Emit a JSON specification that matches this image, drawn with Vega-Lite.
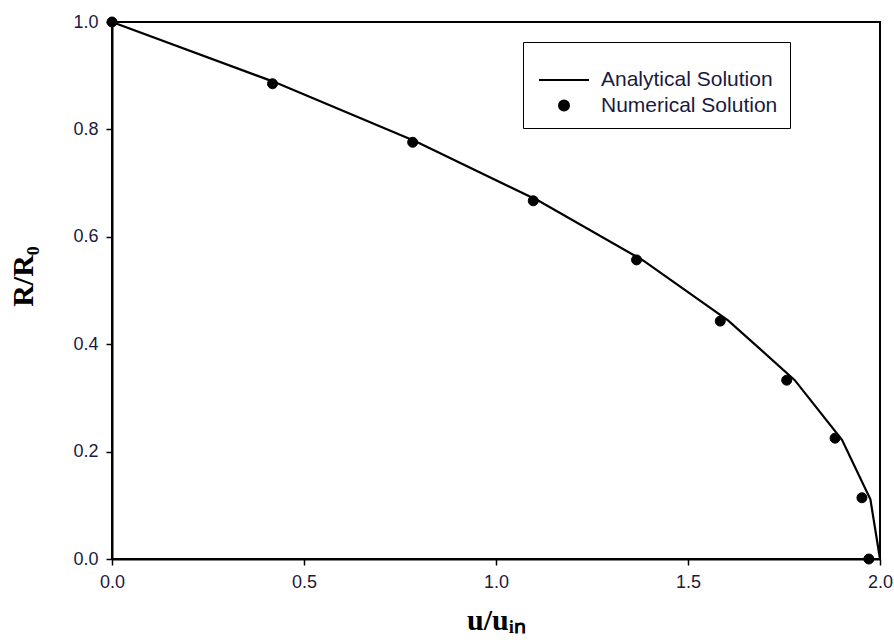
{
  "$schema": "https://vega.github.io/schema/vega-lite/v6.json",
  "width": 768,
  "height": 537,
  "autosize": {"type": "none"},
  "padding": {"left": 112, "top": 22, "right": 14, "bottom": 81},
  "background": "white",
  "config": {
    "view": {"stroke": "black", "strokeWidth": 2},
    "axis": {
      "grid": false,
      "labelFlush": false,
      "domainColor": "black",
      "domainWidth": 2,
      "tickColor": "black",
      "tickWidth": 1.5,
      "tickSize": 6,
      "labelFont": "Liberation Sans",
      "labelFontSize": 18,
      "labelColor": "#1a1a40",
      "titleFont": "Liberation Serif",
      "titleFontWeight": "bold",
      "titleFontSize": 30,
      "titleColor": "black"
    }
  },
  "datasets": {
    "analytical": [
      {"u": 0.0, "r": 1.0, "series": "Analytical Solution"},
      {"u": 0.42, "r": 0.889, "series": "Analytical Solution"},
      {"u": 0.79, "r": 0.778, "series": "Analytical Solution"},
      {"u": 1.111, "r": 0.667, "series": "Analytical Solution"},
      {"u": 1.383, "r": 0.556, "series": "Analytical Solution"},
      {"u": 1.605, "r": 0.444, "series": "Analytical Solution"},
      {"u": 1.778, "r": 0.333, "series": "Analytical Solution"},
      {"u": 1.901, "r": 0.222, "series": "Analytical Solution"},
      {"u": 1.975, "r": 0.111, "series": "Analytical Solution"},
      {"u": 2.0, "r": 0.0, "series": "Analytical Solution"}
    ],
    "numerical": [
      {"u": 0.0, "r": 1.0, "series": "Numerical Solution"},
      {"u": 0.418, "r": 0.885, "series": "Numerical Solution"},
      {"u": 0.783, "r": 0.776, "series": "Numerical Solution"},
      {"u": 1.097, "r": 0.667, "series": "Numerical Solution"},
      {"u": 1.366, "r": 0.557, "series": "Numerical Solution"},
      {"u": 1.584, "r": 0.443, "series": "Numerical Solution"},
      {"u": 1.757, "r": 0.333, "series": "Numerical Solution"},
      {"u": 1.883, "r": 0.225, "series": "Numerical Solution"},
      {"u": 1.953, "r": 0.114, "series": "Numerical Solution"},
      {"u": 1.971, "r": 0.0, "series": "Numerical Solution"}
    ]
  },
  "encoding": {
    "x": {
      "field": "u",
      "type": "quantitative",
      "scale": {"domain": [0, 2], "nice": false, "zero": false},
      "axis": {"values": [0, 0.5, 1, 1.5, 2], "format": ".1f", "title": "u/uᵢₙ", "labelPadding": 8, "titlePadding": 14}
    },
    "y": {
      "field": "r",
      "type": "quantitative",
      "scale": {"domain": [0, 1], "nice": false},
      "axis": {"values": [0, 0.2, 0.4, 0.6, 0.8, 1.0], "format": ".1f", "title": "R/R₀", "labelPadding": 8, "titlePadding": 34, "titleY": 254}
    }
  },
  "layer": [
    {
      "data": {"name": "analytical"},
      "mark": {"type": "line", "color": "black", "strokeWidth": 2.2, "clip": false}
    },
    {
      "data": {"name": "numerical"},
      "mark": {"type": "point", "filled": true, "color": "black", "stroke": "black", "strokeWidth": 1, "opacity": 1, "clip": false},
      "encoding": {
        "shape": {
          "field": "series",
          "type": "nominal",
          "scale": {"domain": ["Analytical Solution", "Numerical Solution"], "range": ["stroke", "circle"]},
          "legend": {
            "title": null,
            "orient": "none",
            "legendX": 411,
            "legendY": 20,
            "strokeColor": "black",
            "fillColor": "white",
            "padding": 12,
            "rowPadding": 4,
            "symbolOffset": 3,
            "symbolStrokeColor": "black",
            "symbolStrokeWidth": 2,
            "symbolFillColor": "black",
            "labelOffset": 11,
            "labelFont": "Liberation Sans",
            "labelFontSize": 21,
            "labelColor": "#1a1a40",
            "labelLimit": 400,
            "encode": {
              "legend": {"update": {"strokeWidth": {"value": 1.5}}},
              "symbols": {"update": {"stroke": {"value": "black"}, "strokeWidth": {"value": 2}, "fill": {"value": "black"}, "opacity": {"value": 1}, "strokeOpacity": {"value": 1}}}
            }
          }
        },
        "size": {
          "field": "series",
          "type": "nominal",
          "scale": {"domain": ["Analytical Solution", "Numerical Solution"], "range": [2500, 100]},
          "legend": {
            "title": null,
            "orient": "none",
            "legendX": 411,
            "legendY": 20
          }
        }
      }
    }
  ]
}
